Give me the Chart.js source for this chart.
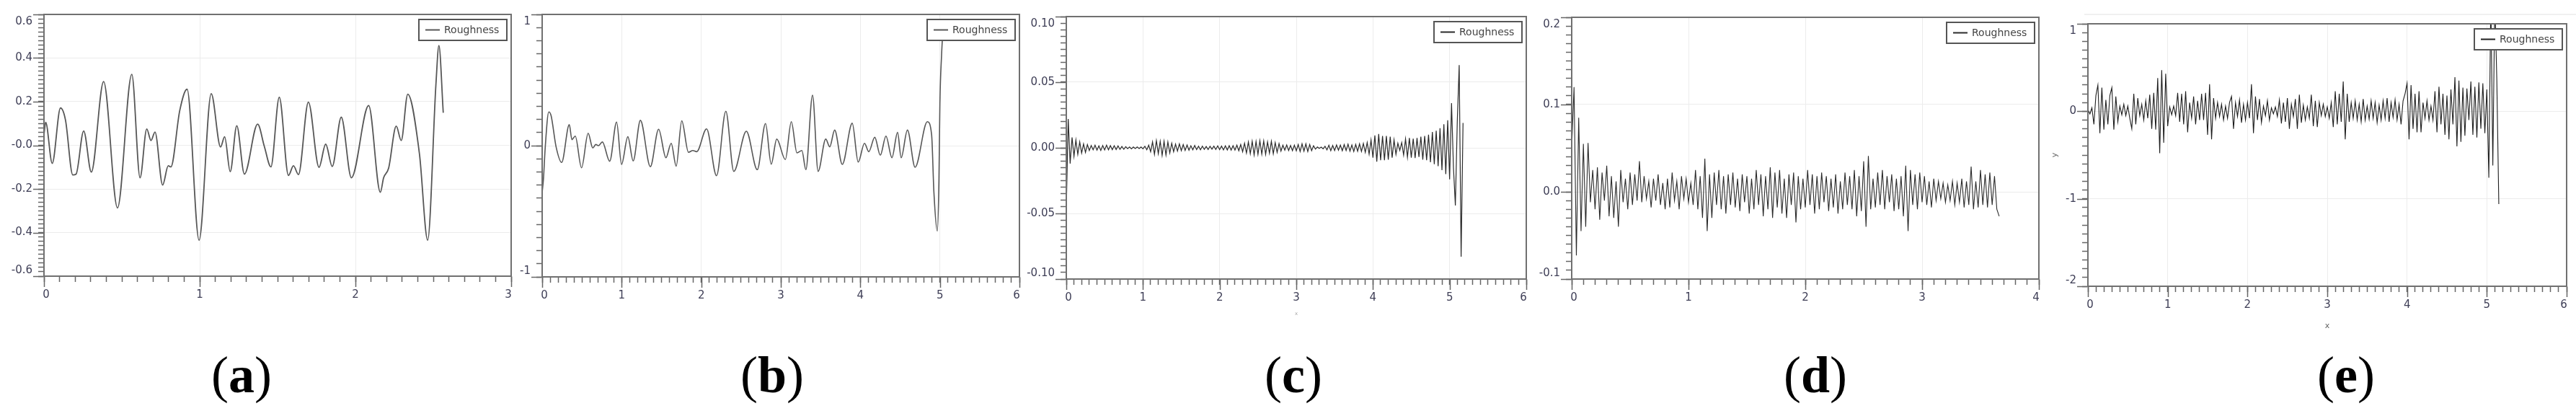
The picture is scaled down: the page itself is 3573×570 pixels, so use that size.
<!DOCTYPE html>
<html><head><meta charset="utf-8">
<script src="https://cdn.jsdelivr.net/npm/chart.js@4/dist/chart.umd.min.js"></script>
<style>
html,body{margin:0;padding:0;background:#fff;}
body{width:3573px;height:570px;position:relative;overflow:hidden;}
canvas{position:absolute;top:0;}
.cap{position:absolute;top:484px;font-family:"Liberation Serif","Times New Roman",serif;font-size:72px;line-height:72px;color:#000;transform:translateX(-50%);white-space:nowrap;}
.cap b{font-weight:bold;}
.topline{position:absolute;left:2891px;top:19px;width:682px;height:2px;background:#f0f0f0;}
</style></head><body>
<div class="topline"></div>
<div class="cap" style="left:335px">(<b>a</b>)</div>
<div class="cap" style="left:1071px">(<b>b</b>)</div>
<div class="cap" style="left:1794px">(<b>c</b>)</div>
<div class="cap" style="left:2518px">(<b>d</b>)</div>
<div class="cap" style="left:3254px">(<b>e</b>)</div>
<script>
const seriesLabel = 'Roughness';

// ---------- panel (a) ----------
const aX = [0,0.011,0.053,0.106,0.138,0.185,0.206,0.255,0.304,0.383,
0.472,0.564,0.617,0.660,0.687,0.713,0.762,0.798,0.815,0.872,
0.919,0.996,1.074,1.134,1.160,1.196,1.238,1.287,1.372,1.415,
1.457,1.511,1.570,1.602,1.634,1.698,1.766,1.809,1.851,1.909,
1.974,2.085,2.160,2.181,2.213,2.262,2.294,2.336,2.411,2.464,
2.517,2.536,2.564];
const aY = [0.05,0.105,-0.083,0.171,0.116,-0.136,-0.132,0.066,-0.123,0.292,
-0.287,0.325,-0.149,0.075,0.022,0.061,-0.182,-0.094,-0.099,0.160,
0.257,-0.435,0.237,-0.008,0.039,-0.121,0.090,-0.132,0.097,-0.005,
-0.099,0.220,-0.138,-0.094,-0.134,0.198,-0.101,0.005,-0.097,0.129,
-0.149,0.182,-0.215,-0.149,-0.105,0.088,0.022,0.234,-0.039,-0.435,
0.281,0.457,0.149];
const aXTicks = [0,1,2,3];
const aXTickLabels = ['0','1','2','3'];
const aYTicks = [0.6,0.4,0.2,0,-0.2,-0.4,-0.6];
const aYTickLabels = ['0.6','0.4','0.2','-0.0','-0.2','-0.4','-0.6'];

// ---------- panel (b) ----------
const bX = [0,0.017,0.037,0.083,0.112,0.175,0.245,0.341,0.374,0.416,
0.495,0.578,0.636,0.674,0.707,0.757,0.849,0.936,0.998,1.077,
1.144,1.235,1.360,1.464,1.556,1.622,1.685,1.755,1.839,1.893,
1.943,2.067,2.192,2.309,2.409,2.567,2.704,2.808,2.879,2.949,
3.057,3.132,3.203,3.265,3.315,3.399,3.469,3.565,3.615,3.677,
3.773,3.898,3.973,4.052,4.106,4.181,4.251,4.322,4.397,4.468,
4.513,4.592,4.688,4.842,4.896,4.925,4.967,4.988,5.000,5.021,
5.042];
const bY = [-0.358,-0.248,-0.028,0.257,0.229,-0.009,-0.128,0.160,0.046,0.073,
-0.169,0.095,-0.018,0.009,0.0,0.028,-0.119,0.180,-0.143,0.068,
-0.116,0.193,-0.160,0.125,-0.092,0.018,-0.156,0.189,-0.051,-0.037,
-0.046,0.128,-0.229,0.262,-0.196,0.110,-0.183,0.169,-0.141,0.050,
-0.106,0.183,-0.055,-0.037,-0.183,0.385,-0.196,0.050,-0.009,0.119,
-0.143,0.171,-0.125,0.018,-0.046,0.064,-0.073,0.073,-0.092,0.101,
-0.092,0.119,-0.165,0.183,0.083,-0.358,-0.651,-0.266,0.321,0.688,
0.93];
const bXTicks = [0,1,2,3,4,5,6];
const bXTickLabels = ['0','1','2','3','4','5','6'];
const bYTicks = [1,0,-1];
const bYTickLabels = ['1','0','-1'];

// ---------- panel (c) ----------  samples every cStep starting at cStart
const cStart = 0, cStep = 0.025;
const cY = [
-0.047,0.022,-0.012,0.008,-0.0065,0.006,-0.005,0.0045,
-0.004,0.003,-0.0035,0.0025,-0.002,0.0018,-0.0015,0.002,
-0.0018,0.0015,-0.002,0.0018,-0.0016,0.002,-0.0015,0.0017,
-0.0014,0.0016,-0.0013,0.0015,-0.0012,0.001,-0.0011,0.0009,
-0.0007,0.0006,-0.0008,0.0006,-0.0005,0.0007,-0.0005,0.0006,
-0.0008,0.0012,-0.0015,0.002,-0.003,0.0045,-0.005,0.0055,
-0.0045,0.005,-0.0058,0.005,-0.0055,0.0045,-0.004,0.0035,
-0.003,0.0028,-0.0025,0.003,-0.0022,0.0025,-0.002,0.0022,
-0.0018,0.0016,-0.0015,0.0018,-0.0014,0.0012,-0.0015,0.0013,
-0.0012,0.001,-0.0013,0.0012,-0.001,0.0013,-0.0012,0.0015,
-0.0014,0.0013,-0.0016,0.0015,-0.0017,0.0016,-0.0018,0.0016,
-0.0018,0.002,-0.0022,0.0025,-0.003,0.0035,-0.004,0.0045,
-0.0045,0.005,-0.0055,0.0048,-0.005,0.0055,-0.0048,0.0052,
-0.005,0.0045,-0.0042,0.005,-0.0045,0.004,-0.0035,0.0032,
-0.0025,0.002,-0.0018,0.0022,-0.002,0.0018,-0.0022,0.002,
-0.0022,0.0025,-0.0028,0.003,-0.0026,0.003,-0.0028,0.0025,
-0.0022,0.0016,-0.001,0.0006,-0.0004,0.0005,-0.0008,0.0012,
-0.0016,0.002,-0.0022,0.0018,-0.002,0.0022,-0.0018,0.002,
-0.0022,0.0025,-0.002,0.0028,-0.0025,0.0022,-0.0028,0.0026,
-0.0026,0.003,-0.0028,0.0033,-0.0035,0.004,-0.0048,0.006,
-0.0075,0.0095,-0.0105,0.0105,-0.0095,0.009,-0.0095,0.009,
-0.009,0.0085,-0.0075,0.006,-0.005,0.0035,-0.002,0.004,
-0.0055,0.0068,-0.0072,0.0075,-0.0075,0.007,-0.0078,0.0075,
-0.007,0.0085,-0.009,0.009,-0.0095,0.01,-0.011,0.012,
-0.0125,0.013,-0.014,0.015,-0.017,0.018,-0.02,0.021,
-0.024,0.034,-0.015,-0.044,0.02,0.063,-0.083,0.019];
const cXTicks = [0,1,2,3,4,5,6];
const cXTickLabels = ['0','1','2','3','4','5','6'];
const cYTicks = [0.10,0.05,0,-0.05,-0.10];
const cYTickLabels = ['0.10','0.05','0.00','-0.05','-0.10'];

// ---------- panel (d) ----------
const dStart = 0, dStep = 0.02;
const dY = [
0.05,0.12,-0.073,0.085,-0.045,0.055,-0.04,0.056,-0.012,0.025,
-0.02,0.028,-0.032,0.022,-0.01,0.03,-0.028,0.018,-0.03,0.012,
-0.04,0.025,-0.012,0.015,-0.02,0.022,-0.015,0.02,-0.01,0.035,
-0.012,0.018,-0.008,0.012,-0.018,0.015,-0.01,0.02,-0.015,0.01,
-0.02,0.015,-0.018,0.022,-0.01,0.012,-0.02,0.018,-0.008,0.015,
-0.012,0.01,-0.015,0.025,-0.02,0.018,-0.03,0.038,-0.045,0.02,
-0.03,0.022,-0.015,0.025,-0.02,0.018,-0.025,0.02,-0.015,0.022,
-0.018,0.015,-0.022,0.02,-0.012,0.018,-0.025,0.015,-0.02,0.025,
-0.015,0.02,-0.028,0.018,-0.02,0.028,-0.03,0.022,-0.018,0.025,
-0.025,0.015,-0.03,0.02,-0.015,0.022,-0.035,0.018,-0.02,0.015,
-0.018,0.025,-0.015,0.02,-0.025,0.018,-0.02,0.022,-0.012,0.018,
-0.022,0.015,-0.018,0.02,-0.025,0.012,-0.02,0.022,-0.015,0.018,
-0.02,0.025,-0.028,0.018,-0.022,0.035,-0.04,0.041,-0.02,0.015,
-0.018,0.022,-0.015,0.025,-0.02,0.018,-0.012,0.02,-0.022,0.015,
-0.02,0.018,-0.028,0.03,-0.045,0.025,-0.015,0.02,-0.02,0.022,
-0.012,0.018,-0.015,0.012,-0.018,0.015,-0.01,0.012,-0.008,0.01,
-0.012,0.008,-0.01,0.012,-0.015,0.01,-0.012,0.015,-0.018,0.012,
-0.015,0.029,-0.02,0.012,-0.018,0.025,-0.015,0.02,-0.018,0.022,
-0.015,0.018,-0.02,-0.028];
const dXTicks = [0,1,2,3,4];
const dXTickLabels = ['0','1','2','3','4'];
const dYTicks = [0.2,0.1,0,-0.1];
const dYTickLabels = ['0.2','0.1','0.0','-0.1'];

// ---------- panel (e) ----------
const eStart = 0, eStep = 0.025;
const eY = [
0.02,-0.03,0.04,-0.15,0.18,0.3,-0.25,0.27,
-0.21,0.13,-0.15,0.18,0.27,-0.21,0.17,-0.12,
0.06,-0.04,0.08,-0.05,0.06,-0.08,-0.2,0.2,
-0.15,0.15,-0.05,0.08,-0.1,0.12,-0.08,0.19,
-0.2,0.21,-0.21,0.38,-0.48,0.47,-0.36,0.43,
-0.17,0.05,-0.04,0.06,-0.05,0.21,-0.12,0.2,
-0.15,0.23,-0.24,0.1,-0.08,0.17,-0.15,0.12,
-0.1,0.2,-0.1,0.21,-0.27,0.31,-0.32,0.15,
-0.08,0.1,-0.06,0.08,-0.1,0.06,-0.08,0.1,
0.17,-0.2,0.1,-0.06,0.13,-0.13,0.08,-0.1,
0.1,-0.08,0.31,-0.25,0.17,-0.1,0.14,-0.13,
0.06,-0.05,0.12,-0.1,0.04,-0.03,0.05,-0.06,
0.13,-0.14,0.1,-0.12,0.15,-0.2,0.08,-0.06,
0.14,-0.2,0.19,-0.13,0.07,-0.1,0.05,-0.08,
0.19,-0.17,0.12,-0.18,0.1,-0.05,0.08,-0.06,
0.05,-0.08,0.1,-0.18,0.23,-0.15,0.2,-0.12,
0.34,-0.32,0.2,-0.12,0.1,-0.08,0.12,-0.1,
0.08,-0.12,0.14,-0.1,0.06,-0.09,0.12,-0.08,
0.1,-0.13,0.07,-0.1,0.12,-0.08,0.15,-0.12,
0.1,-0.07,0.13,-0.1,0.08,-0.15,0.12,0.2,
0.32,-0.32,0.3,-0.2,0.2,-0.24,0.23,-0.24,
0.1,-0.08,0.12,-0.1,0.06,-0.1,0.23,-0.24,
0.28,-0.15,0.2,-0.27,0.18,-0.32,0.25,-0.15,
0.39,-0.4,0.35,-0.35,0.27,-0.28,0.26,-0.1,
0.34,-0.27,0.28,-0.3,0.33,-0.2,0.32,-0.25,
0.25,-0.76,1.3,-0.62,1.3,0.36,-1.06];
const eXTicks = [0,1,2,3,4,5,6];
const eXTickLabels = ['0','1','2','3','4','5','6'];
const eYTicks = [1,0,-1,-2];
const eYTickLabels = ['1','0','-1','-2'];

// ---------- styling / layout ----------
const CANVAS_H = 470, AXIS_W = 70, PAD_R = 14;
const TICK_TEXT = '#3e3e56', GRID = '#ececec', AXIS = '#555', FRAME = '#707070', TICK_MARK = '#666';
const FONT = {family: '"DejaVu Sans", Verdana, sans-serif', size: 15};
const TOP_SHIFT = 10, BOTTOM_SHIFT = 8;
const MINOR_LEN = 8, MAJOR_LEN = 15;

function pairXY(xs, ys){ return ys.map((y,i)=>({x: xs[i], y: y})); }
function sampled(start, step, ys){ return ys.map((y,i)=>({x: +(start + i*step).toFixed(4), y: y})); }
function near(v, t){ return Math.abs(v - t) < 1e-7; }
function labelFor(v, ticks, labels){ for (let i=0;i<ticks.length;i++){ if (near(v, ticks[i])) return labels[i]; } return ''; }
function isMajor(v, ticks){ return ticks.some(t => near(v, t)); }

const panels = [
  {box:{L:61,R:709,T:20,B:383}, points: pairXY(aX,aY), smooth:true, color:'#575757', lw:1.8,
   xMin:0,xMax:3,xMinor:0.1,xTicks:aXTicks,xLabels:aXTickLabels,
   yMin:-0.6,yMax:0.6,yMinor:0.02,yTicks:aYTicks,yLabels:aYTickLabels},
  {box:{L:752,R:1414,T:20,B:384}, points: pairXY(bX,bY), smooth:true, color:'#575757', lw:1.6,
   xMin:0,xMax:6,xMinor:0.1,xTicks:bXTicks,xLabels:bXTickLabels,
   yMin:-1,yMax:1,yMinor:0.1,yTicks:bYTicks,yLabels:bYTickLabels},
  {box:{L:1479,R:2117,T:23,B:387}, points: sampled(cStart,cStep,cY), smooth:false, color:'#2a2a2a', lw:1.2,
   xMin:0,xMax:6,xMinor:0.1,xTicks:cXTicks,xLabels:cXTickLabels,
   yMin:-0.1,yMax:0.1,yMinor:0.005,yTicks:cYTicks,yLabels:cYTickLabels,
   xTitle:{text:'x',size:7,color:'#aaa',pb:31}},
  {box:{L:2180,R:2828,T:24,B:387}, points: sampled(dStart,dStep,dY), smooth:false, color:'#2a2a2a', lw:1.1,
   xMin:0,xMax:4,xMinor:0.1,xTicks:dXTicks,xLabels:dXTickLabels,
   yMin:-0.1,yMax:0.2,yMinor:0.01,yTicks:dYTicks,yLabels:dYTickLabels},
  {box:{L:2896,R:3560,T:33,B:397}, points: sampled(eStart,eStep,eY), smooth:false, color:'#1e1e1e', lw:1.1,
   xMin:0,xMax:6,xMinor:0.1,xTicks:eXTicks,xLabels:eXTickLabels,
   yMin:-2,yMax:1,yMinor:0.1,yTicks:eYTicks,yLabels:eYTickLabels,
   xTitle:{text:'x',size:11,color:'#666',pb:11}, yTitle:{text:'y',size:11,color:'#666',pt:18}}
];

function decoPlugin(p){
  return {
    id: 'deco',
    beforeDraw(chart){
      const a = chart.chartArea;
      try {
        chart.scales.y.getLabelItems(a).forEach(it => {
          if (it._sh || it.label === '' ) return;
          const ty = it.options.translation[1];
          if (Math.abs(ty - a.top) < 2) it.options.translation[1] = ty + TOP_SHIFT;
          else if (Math.abs(ty - a.bottom) < 2) it.options.translation[1] = ty - BOTTOM_SHIFT;
          it._sh = true;
        });
        chart.scales.x.getLabelItems(a).forEach(it => {
          if (it._sh || it.label === '' ) return;
          const tx = it.options.translation[0];
          if (Math.abs(tx - a.left) < 2) it.options.translation[0] = tx + 3;
          else if (Math.abs(tx - a.right) < 2) it.options.translation[0] = tx - 4;
          it._sh = true;
        });
      } catch(e) {}
    },
    afterDatasetsDraw(chart){
      const ctx = chart.ctx, a = chart.chartArea;
      const xs = chart.scales.x, ys = chart.scales.y;
      ctx.save();
      // longer major tick marks
      ctx.strokeStyle = TICK_MARK; ctx.lineWidth = 1.5;
      p.xTicks.forEach(v => { const px = Math.round(xs.getPixelForValue(v)) + 0.5;
        ctx.beginPath(); ctx.moveTo(px, a.bottom); ctx.lineTo(px, a.bottom + MAJOR_LEN); ctx.stroke(); });
      p.yTicks.forEach(v => { const py = Math.round(ys.getPixelForValue(v)) + 0.5;
        ctx.beginPath(); ctx.moveTo(a.left - MAJOR_LEN, py); ctx.lineTo(a.left, py); ctx.stroke(); });
      // frame
      ctx.strokeStyle = FRAME; ctx.lineWidth = 2;
      ctx.strokeRect(a.left, a.top, a.right - a.left, a.bottom - a.top);
      // legend box
      const lw = 122, lh = 29;
      const lx = a.right - 6 - lw, ly = a.top + 7;
      ctx.fillStyle = '#fff'; ctx.fillRect(lx, ly, lw, lh);
      ctx.strokeStyle = '#555'; ctx.lineWidth = 2; ctx.strokeRect(lx, ly, lw, lh);
      const ds = chart.data.datasets[0];
      ctx.strokeStyle = ds.borderColor; ctx.lineWidth = 2;
      ctx.beginPath(); ctx.moveTo(lx + 9, ly + lh/2); ctx.lineTo(lx + 29, ly + lh/2); ctx.stroke();
      ctx.fillStyle = '#444'; ctx.font = '14px "DejaVu Sans", Verdana, sans-serif';
      ctx.textBaseline = 'middle'; ctx.textAlign = 'left';
      ctx.fillText(ds.label, lx + 35, ly + lh/2 + 1);
      ctx.restore();
    }
  };
}

panels.forEach(p => {
  const cv = document.createElement('canvas');
  const W = p.box.R - p.box.L + AXIS_W + PAD_R;
  cv.width = W; cv.height = CANVAS_H;
  cv.style.left = (p.box.L - AXIS_W) + 'px';
  cv.style.width = W + 'px'; cv.style.height = CANVAS_H + 'px';
  document.body.appendChild(cv);
  const xTitle = p.xTitle ? {display:true, text:p.xTitle.text, color:p.xTitle.color, font:{family:FONT.family,size:p.xTitle.size}, padding:{top:0,bottom:p.xTitle.pb}} : {display:false};
  const yTitle = p.yTitle ? {display:true, text:p.yTitle.text, color:p.yTitle.color, font:{family:FONT.family,size:p.yTitle.size}, padding:{top:p.yTitle.pt,bottom:0}} : {display:false};
  new Chart(cv, {
    type: 'scatter',
    data: {datasets: [{label: seriesLabel, data: p.points, showLine: true, borderColor: p.color, borderWidth: p.lw,
      pointRadius: 0, pointHoverRadius: 0, fill: false,
      tension: p.smooth ? 0.4 : 0, cubicInterpolationMode: p.smooth ? 'monotone' : 'default'}]},
    options: {
      responsive: false, animation: false, devicePixelRatio: 1, events: [],
      layout: {padding: {top: p.box.T, right: PAD_R, left: 0, bottom: 0}},
      plugins: {legend: {display: false}, tooltip: {enabled: false}},
      scales: {
        x: {type: 'linear', position: 'bottom', min: p.xMin, max: p.xMax,
          afterFit: s => { s.height = CANVAS_H - p.box.B; },
          ticks: {stepSize: p.xMinor, autoSkip: false, maxRotation: 0, minRotation: 0, includeBounds: false,
            padding: 9, color: TICK_TEXT, font: FONT, callback: v => labelFor(v, p.xTicks, p.xLabels)},
          grid: {color: c => (c.tick && isMajor(c.tick.value, p.xTicks)) ? GRID : 'rgba(0,0,0,0)', lineWidth: 1,
            drawTicks: true, tickLength: MINOR_LEN, tickColor: TICK_MARK, tickWidth: 1.5},
          border: {display: true, color: AXIS, width: 2},
          title: xTitle},
        y: {type: 'linear', position: 'left', min: p.yMin, max: p.yMax,
          afterFit: s => { s.width = AXIS_W; },
          ticks: {stepSize: p.yMinor, autoSkip: false, includeBounds: false,
            padding: 8, color: TICK_TEXT, font: FONT, callback: v => labelFor(v, p.yTicks, p.yLabels)},
          grid: {color: c => (c.tick && isMajor(c.tick.value, p.yTicks)) ? GRID : 'rgba(0,0,0,0)', lineWidth: 1,
            drawTicks: true, tickLength: MINOR_LEN, tickColor: TICK_MARK, tickWidth: 1.5},
          border: {display: true, color: AXIS, width: 2},
          title: yTitle}
      }
    },
    plugins: [decoPlugin(p)]
  });
});
</script>
</body></html>
